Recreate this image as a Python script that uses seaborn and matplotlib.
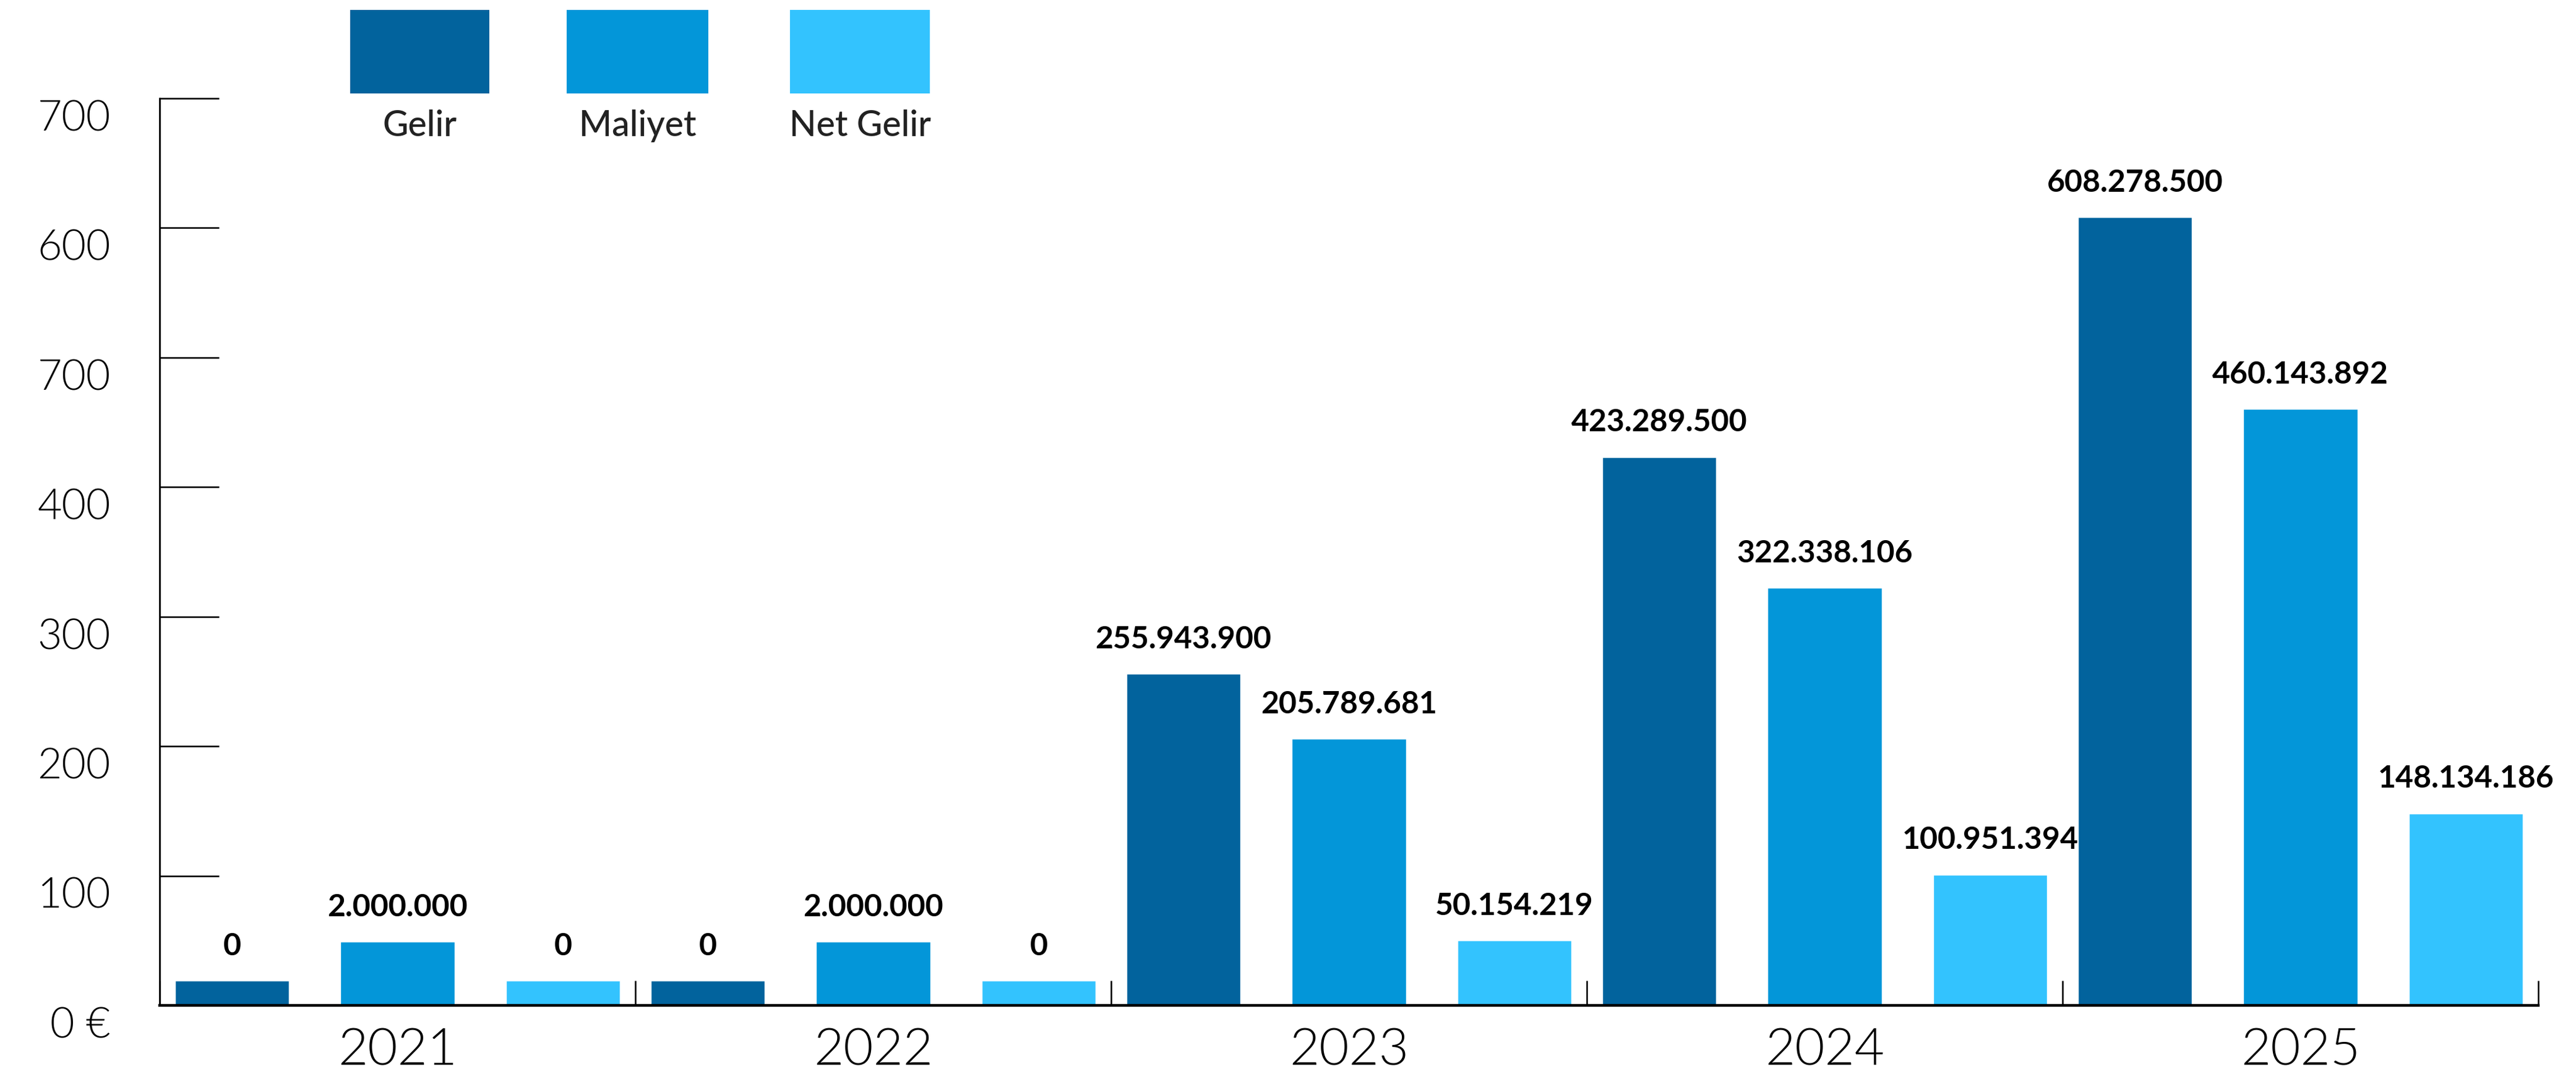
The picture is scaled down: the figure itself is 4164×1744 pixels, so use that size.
import matplotlib
matplotlib.use("Agg")
import matplotlib.pyplot as plt
from matplotlib.patches import Rectangle
import numpy as np
import pandas as pd
import seaborn as sns

# ---- data -------------------------------------------------------------
years = ["2021", "2022", "2023", "2024", "2025"]
series = ["Gelir", "Maliyet", "Net Gelir"]
gelir = [0, 0, 255943900, 423289500, 608278500]
maliyet = [2000000, 2000000, 205789681, 322338106, 460143892]
net_gelir = [0, 0, 50154219, 100951394, 148134186]
colors = ["#02639D", "#0396D9", "#33C3FE"]

y_ticks = [0, 100, 200, 300, 400, 500, 600, 700]
y_tick_labels = ["0 €", "100", "200", "300", "400", "700", "600", "700"]

# small values get a visible stub so the bar can carry its label
ZERO_STUB = 19      # millions, height drawn for a zero value
SMALL_FLOOR = 49    # millions, minimum height for a non-zero value


def shown_height(v):
    m = v / 1e6
    if v == 0:
        return ZERO_STUB
    return max(m, SMALL_FLOOR)


def fmt(v):
    return f"{v:,}".replace(",", ".")


values = {"Gelir": gelir, "Maliyet": maliyet, "Net Gelir": net_gelir}
rows = []
for s in series:
    for y, v in zip(years, values[s]):
        rows.append({"year": y, "series": s, "value": v, "height": shown_height(v)})
df = pd.DataFrame(rows)

# ---- figure -----------------------------------------------------------
sns.set_theme(style="white")
plt.rcParams["font.family"] = ["Lato", "DejaVu Sans"]

W, H, DPI = 4164, 1744, 100
fig = plt.figure(figsize=(W / DPI, H / DPI), dpi=DPI)
ax = fig.add_axes([258 / W, 1 - 1625 / H, (4103 - 258) / W, (1625 - 159) / H])

sns.barplot(data=df, x="year", y="height", hue="series", order=years,
            hue_order=series, palette=colors, width=1.044, gap=0.31,
            saturation=1, legend=False, ax=ax)

ax.set_xlim(-0.5, 4.5)
ax.set_ylim(0, 700)
ax.set_xlabel("")
ax.set_ylabel("")

for side in ("top", "right"):
    ax.spines[side].set_visible(False)
ax.spines["left"].set_linewidth(2.0)
ax.spines["left"].set_color("black")
ax.spines["bottom"].set_linewidth(3.2)
ax.spines["bottom"].set_color("black")

# y ticks pointing into the plot, labels drawn just below each tick
ax.set_yticks(y_ticks)
ax.tick_params(axis="y", direction="in", length=69, width=1.8, color="black",
               labelleft=False, left=True)
for val, lab in zip(y_ticks, y_tick_labels):
    ax.annotate(lab, xy=(0, val), xycoords=("axes fraction", "data"),
                xytext=(-57, -24), textcoords="offset points",
                ha="right", va="center", fontsize=49, fontweight=300,
                color="black")

# category labels centred, separators between groups
ax.set_xticks(range(len(years)))
ax.set_xticklabels(years, fontsize=60, fontweight=300, color="black")
ax.tick_params(axis="x", which="major", length=0, pad=26)
ax.set_xticks(np.arange(-0.5, len(years)), minor=True)
ax.tick_params(axis="x", which="minor", direction="in", length=29, width=1.8,
               color="black", bottom=True)

# value labels above the bars
for cont, s in zip(ax.containers, series):
    ax.bar_label(cont, labels=[fmt(v) for v in values[s]], padding=24,
                 fontsize=36, fontweight="bold", color="black")

# legend: swatches with names beneath
legend_boxes = [(566, 791), (916, 1145), (1277, 1503)]
for (x0, x1), s, c in zip(legend_boxes, series, colors):
    fig.patches.append(Rectangle((x0 / W, 1 - 151 / H), (x1 - x0) / W, 135 / H,
                                 transform=fig.transFigure, color=c, lw=0))
    fig.text((x0 + x1) / 2 / W, 1 - 204 / H, s, ha="center", va="center",
             fontsize=41, fontweight="medium", color="#222222")

fig.savefig("out.png", dpi=DPI, facecolor="white")
